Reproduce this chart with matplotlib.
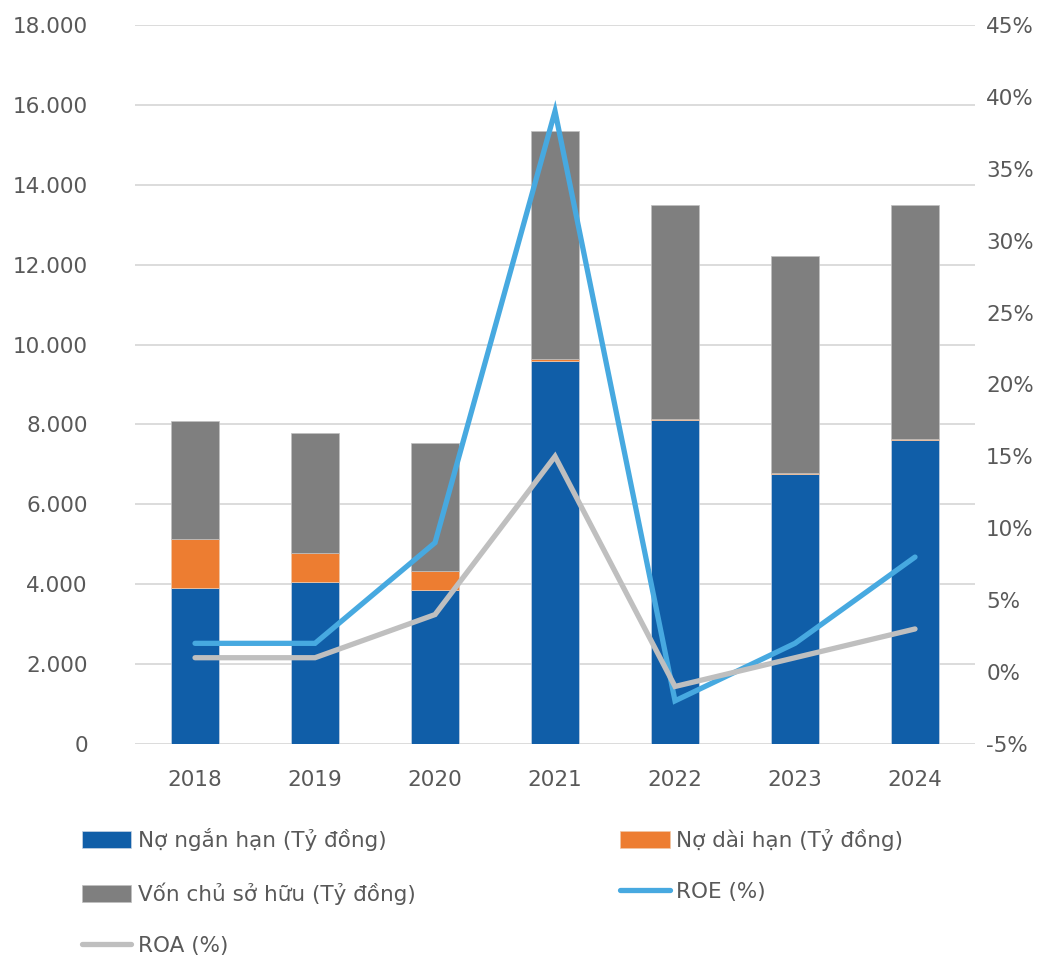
import matplotlib.pyplot as plt
import numpy as np
from matplotlib.ticker import FuncFormatter

plt.rcParams['font.family'] = ['DejaVu Sans']

years = ["2018", "2019", "2020", "2021", "2022", "2023", "2024"]
no_ngan_han = [3900, 4060, 3860, 9600, 8100, 6770, 7610]
no_dai_han = [1230, 710, 480, 45, 45, 20, 35]
von_csh = [2960, 3010, 3190, 5700, 5350, 5420, 5850]
roe = [2, 2, 9, 39, -2, 2, 8]
roa = [1, 1, 4, 15, -1, 1, 3]

c_blue = "#105EA8"
c_orange = "#ED7D31"
c_gray = "#7F7F7F"
c_roe = "#47A9E0"
c_roa = "#BFBFBF"
txt = "#595959"
fs = 15.5

fig = plt.figure(figsize=(10.59, 9.6), dpi=100)
ax = fig.add_axes([0.1275, 0.225, 0.7932, 0.749])
ax2 = ax.twinx()

x = np.arange(len(years))
w = 0.4
b1 = ax.bar(x, no_ngan_han, w, color=c_blue, edgecolor="#c8d4e4", linewidth=0.5, zorder=2)
bottom2 = np.array(no_ngan_han)
b2 = ax.bar(x, no_dai_han, w, bottom=bottom2, color=c_orange, edgecolor="#f0c8a8", linewidth=0.5, zorder=2)
bottom3 = bottom2 + np.array(no_dai_han)
b3 = ax.bar(x, von_csh, w, bottom=bottom3, color=c_gray, edgecolor="#c0c0c0", linewidth=0.5, zorder=2)

l1, = ax2.plot(x, roe, color=c_roe, lw=3.8, solid_capstyle="round", solid_joinstyle="miter", zorder=3)
l2, = ax2.plot(x, roa, color=c_roa, lw=3.8, solid_capstyle="round", solid_joinstyle="miter", zorder=3)

ax.set_xlim(-0.5, len(years) - 0.5)
ax.set_ylim(0, 18000)
ax.set_yticks(np.arange(0, 18001, 2000))
ax.yaxis.set_major_formatter(FuncFormatter(lambda v, p: f"{int(v):,}".replace(",", ".")))
ax2.set_ylim(-5, 45)
ax2.set_yticks(np.arange(-5, 46, 5))
ax2.yaxis.set_major_formatter(FuncFormatter(lambda v, p: f"{int(v)}%"))

ax.set_xticks(x)
ax.set_xticklabels(years)
ax.grid(axis="y", color="#D9D9D9", lw=1.3, zorder=0)
ax.set_axisbelow(True)
for a in (ax, ax2):
    for s in a.spines.values():
        s.set_visible(False)
ax.tick_params(axis="x", length=0, pad=19, labelsize=fs, labelcolor=txt)
ax.tick_params(axis="y", length=0, pad=34, labelsize=fs, labelcolor=txt)
ax2.tick_params(axis="y", length=0, pad=8, labelsize=fs, labelcolor=txt)

handles = [b1, b3, l2, b2, l1]
labels = ["Nợ ngắn hạn (Tỷ đồng)", "Vốn chủ sở hữu (Tỷ đồng)", "ROA (%)",
          "Nợ dài hạn (Tỷ đồng)", "ROE (%)"]
fig.legend(handles, labels, ncol=2, loc="lower left", bbox_to_anchor=(0.059, -0.016),
           frameon=False, fontsize=fs, labelcolor=txt, handlelength=2.3,
           handleheight=0.8, handletextpad=0.3, columnspacing=9.5, labelspacing=1.45)

fig.savefig("out.png", dpi=100)
